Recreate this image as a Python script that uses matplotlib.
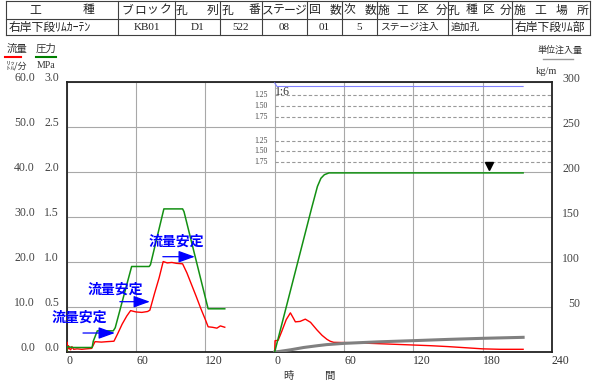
import matplotlib
matplotlib.use('Agg')
import matplotlib.pyplot as plt
from matplotlib.lines import Line2D
import numpy as np

plt.rcParams['font.family'] = ['Noto Sans CJK JP', 'DejaVu Sans']
NUM = ['Liberation Serif', 'Noto Sans CJK JP']

# ---- 表 ----
col_edges = [6, 118, 175, 220, 262, 307, 342, 377, 448, 512, 590]
headers = ['工種', 'ブロック', '孔列', '孔番', 'ステージ', '回数', '次数', '施工区分', '孔種区分', '施工場所']
head_inset = [29, 9, 7, 8, 6, 7, 7, 6, 6, 7]
values = ['右岸下段ﾘﾑｶｰﾃﾝ', 'KB01', 'D1', '522', '08', '01', '5', 'ステージ注入', '追加孔', '右岸下段ﾘﾑ部']
value_align = ['left', 'center', 'center', 'center', 'center', 'center', 'center', 'left', 'left', 'left']

# ---- 左側: ステップ注入 (分, MPa / L/分) ----
t1_p = [0, 0.5, 5, 15, 22, 23, 26.5, 40.3, 42, 56.2, 71.4, 72.5, 84.1, 100.3, 101.5, 122.4, 136.8]
p1 = [0, 0.06, 0.05, 0.05, 0.05, 0.12, 0.235, 0.235, 0.27, 0.95, 0.95, 0.97, 1.59, 1.59, 1.56, 0.48, 0.48]
t1_q = [0, 0.3, 0.8, 1.5, 2.5, 3.5, 4.5, 6, 9, 13, 17, 21.6, 24.5, 30, 35, 40.9, 44, 48, 52, 55.3,
        60, 65, 70, 72, 76, 80, 83.5, 87, 91, 95, 100.3, 104, 108, 112, 116, 120, 122.4, 126, 130, 133, 136.8]
q1 = [0, 2.2, 0.6, 1.4, 0.7, 0.5, 1.2, 0.6, 0.7, 0.6, 0.7, 0.8, 2.3, 2.2, 2.3, 2.4, 4.0, 6.2, 8.0, 9.2,
      8.9, 8.8, 9.0, 9.3, 13.0, 16.5, 20.1, 19.8, 19.9, 19.7, 19.6, 17.6, 15.0, 12.4, 9.7, 7.2, 5.6, 5.5, 5.3, 5.8, 5.5]

# ---- 右側: 本注入 ----
t2_p = [0, 8, 16, 24, 32, 37, 40, 43, 47, 60, 120, 180, 215]
p2 = [0, 0.4, 0.8, 1.2, 1.6, 1.84, 1.93, 1.97, 1.99, 1.99, 1.99, 1.99, 1.99]
t2_q = [0, 0.3, 3, 6, 10, 13.6, 16, 17.9, 22, 26.5, 31, 36.6, 41, 45.3, 48, 51, 60, 75, 90, 105,
        120, 135, 150, 165, 180, 195, 215]
q2 = [0, 2.5, 2.6, 4.5, 7.2, 8.7, 7.6, 6.7, 6.8, 7.3, 6.6, 4.9, 3.7, 2.8, 2.4, 2.15, 2.1, 2.0, 1.85, 1.7,
      1.55, 1.4, 1.2, 0.95, 0.7, 0.6, 0.6]
t2_u = [0, 5, 14, 25, 37, 45, 60, 90, 120, 150, 180, 215]
u2 = [0, 0.8, 2.5, 5.0, 7.0, 8.2, 9.6, 11.3, 12.6, 14.0, 15.2, 16.3]
t2_b = [0, 2, 215]
b2 = [2.99, 2.95, 2.95]

dash_levels = [2.856, 2.737, 2.608, 2.348, 2.233, 2.111]
dash_labels = ['1.25', '1.50', '1.75', '1.25', '1.50', '1.75']
mark_t, mark_p = 185.6, 2.067

seg2 = 180  # 右側グラフの横軸上の始点
xticks = [0, 60, 120, 180, 240, 300, 360, 420]
xlabels = ['0', '60', '120', '0', '60', '120', '180', '240']
p_ticks = [0, 0.5, 1.0, 1.5, 2.0, 2.5, 3.0]
q_ticks = [0, 10, 20, 30, 40, 50, 60]
u_ticks = [50, 100, 150, 200, 250, 300]

anno_text = '流量安定'
anno_pos = [(10.6, 0.378), (42, 0.697), (94.9, 1.226)]
arrow_pos = [(14.1, 41.7, 0.211), (46, 72, 0.559), (83.2, 110.9, 1.059)]

W, H = 592, 383
fig = plt.figure(figsize=(W / 100, H / 100), dpi=100)

# 表と見出し用 (ピクセル座標)
tab = fig.add_axes([0, 0, 1, 1])
tab.set_xlim(0, W)
tab.set_ylim(H, 0)
tab.axis('off')
lc = '#404040'
for y in [1, 19, 35]:
    tab.plot([col_edges[0], col_edges[-1]], [y, y], color=lc, lw=0.8)
for x in col_edges:
    tab.plot([x, x], [1, 35], color=lc, lw=0.8)
for i, h in enumerate(headers):
    x0, x1 = col_edges[i], col_edges[i + 1]
    xs = np.linspace(x0 + head_inset[i], x1 - head_inset[i], len(h))
    for c, x in zip(h, xs):
        tab.text(x, 10, c, ha='center', va='center', fontsize=8.5, color='#222222')
for i, v in enumerate(values):
    x0, x1 = col_edges[i], col_edges[i + 1]
    fs = 7 if i in (7, 8) else 8.5
    if value_align[i] == 'left':
        tab.text(x0 + 3, 27, v, ha='left', va='center', fontsize=fs, color='#222222')
    else:
        tab.text((x0 + x1) / 2, 27, v, ha='center', va='center', fontsize=8,
                 family=NUM, color='#222222')

tab.text(7, 49, '流量', fontsize=7.5, va='center', color='#333333')
tab.text(36, 49, '圧力', fontsize=7.5, va='center', color='#333333')
tab.plot([5, 21], [57, 57], color='red', lw=1.5)
tab.plot([36, 56], [57, 57], color='green', lw=1.5)
tab.text(6, 66, '㍑/分', fontsize=6.5, va='center', color='#333333')
tab.text(37, 66, 'MPa', fontsize=7, va='center', family=NUM, color='#333333')
tab.text(560, 50, '単位注入量', fontsize=6.5, ha='center', va='center', color='#333333')
tab.plot([543, 573], [59, 59], color='#999999', lw=1)
tab.text(536, 71, 'kg/m', fontsize=7.5, va='center', family=NUM, color='#333333')
tab.text(288, 376, '時', fontsize=7.5, ha='center', va='center', color='#333333')
tab.text(329, 376, '間', fontsize=7.5, ha='center', va='center', color='#333333')

# ---- グラフ ----
ax = fig.add_axes([66.7 / W, 1 - 352 / H, (552 - 66.7) / W, 270 / H])
ax.set_xlim(0, 420)
ax.set_ylim(0, 3.0)
ax.set_xticks(xticks)
ax.set_xticklabels(xlabels, ha='left', family=NUM, fontsize=8.5, color='#333333')
ax.set_yticks(p_ticks)
ax.set_yticklabels([])
ax.tick_params(length=0, pad=2)
ax.grid(True, color='#a8a8a8', lw=0.8)
for s in ax.spines.values():
    s.set_linewidth(1.3)
    s.set_color('#222222')

for lv, lb in zip(dash_levels, dash_labels):
    ax.plot([seg2, 420], [lv, lv], color='#999999', lw=0.8, ls=(0, (3, 2)))
    ax.annotate(lb, xy=(seg2, lv), xytext=(-5, 0), textcoords='offset points',
                ha='right', va='center', fontsize=5.5, family=NUM, color='#444444')
ax.text(seg2 + 0.5, 2.89, '1:6', fontsize=8.5, family=NUM, va='center', ha='left', color='#333333')

for v in p_ticks:
    ax.annotate(f'{v:.1f}', xy=(0, v), xycoords=('axes fraction', 'data'), xytext=(-5.5, 2.7),
                textcoords='offset points', ha='right', va='center', fontsize=8.5, family=NUM,
                color='#444444', annotation_clip=False)

ax_f = ax.twinx()
ax_f.set_ylim(0, 60)
ax_f.axis('off')
ax_f.plot(t1_q, q1, color='red', lw=1.0)
ax_f.plot(np.array(t2_q) + seg2, q2, color='red', lw=1.0)
for v in q_ticks:
    ax_f.annotate(f'{v:.1f}', xy=(0, v), xycoords=('axes fraction', 'data'), xytext=(-22.8, 2.7),
                  textcoords='offset points', ha='right', va='center', fontsize=8.5, family=NUM,
                  color='#444444', annotation_clip=False)

ax_u = ax.twinx()
ax_u.set_ylim(0, 300)
ax_u.axis('off')
ax_u.plot(np.array(t2_u) + seg2, u2, color='#808080', lw=2.2)
for v in u_ticks:
    ax_u.annotate(f'{v}', xy=(1, v), xycoords=('axes fraction', 'data'), xytext=(20.2, 2.2),
                  textcoords='offset points', ha='right', va='center', fontsize=8.5, family=NUM,
                  color='#444444', annotation_clip=False)

ax_p = ax.twinx()
ax_p.set_ylim(0, 3.0)
ax_p.axis('off')
ax_p.plot(t1_p, p1, color='#139013', lw=1.1)
ax_p.plot(np.array(t2_p) + seg2, p2, color='#139013', lw=1.1)
ax_p.plot(np.array(t2_b) + seg2, b2, color='#8080ff', lw=0.8)
ax_p.plot([mark_t + seg2], [mark_p], marker='v', color='black', ms=6, ls='none')

for (tx, ty), (a0, a1, ay) in zip(anno_pos, arrow_pos):
    ax_p.text(tx, ty, anno_text, ha='center', va='center', fontsize=10, fontweight='bold', color='#0000ff')
    ax_p.annotate('', xy=(a1, ay), xytext=(a0, ay),
                  arrowprops=dict(arrowstyle='-|>,head_length=1.0,head_width=0.36',
                                  color='#0000ff', lw=0.9, shrinkA=0, shrinkB=0))

fig.savefig('out.png', dpi=100)
